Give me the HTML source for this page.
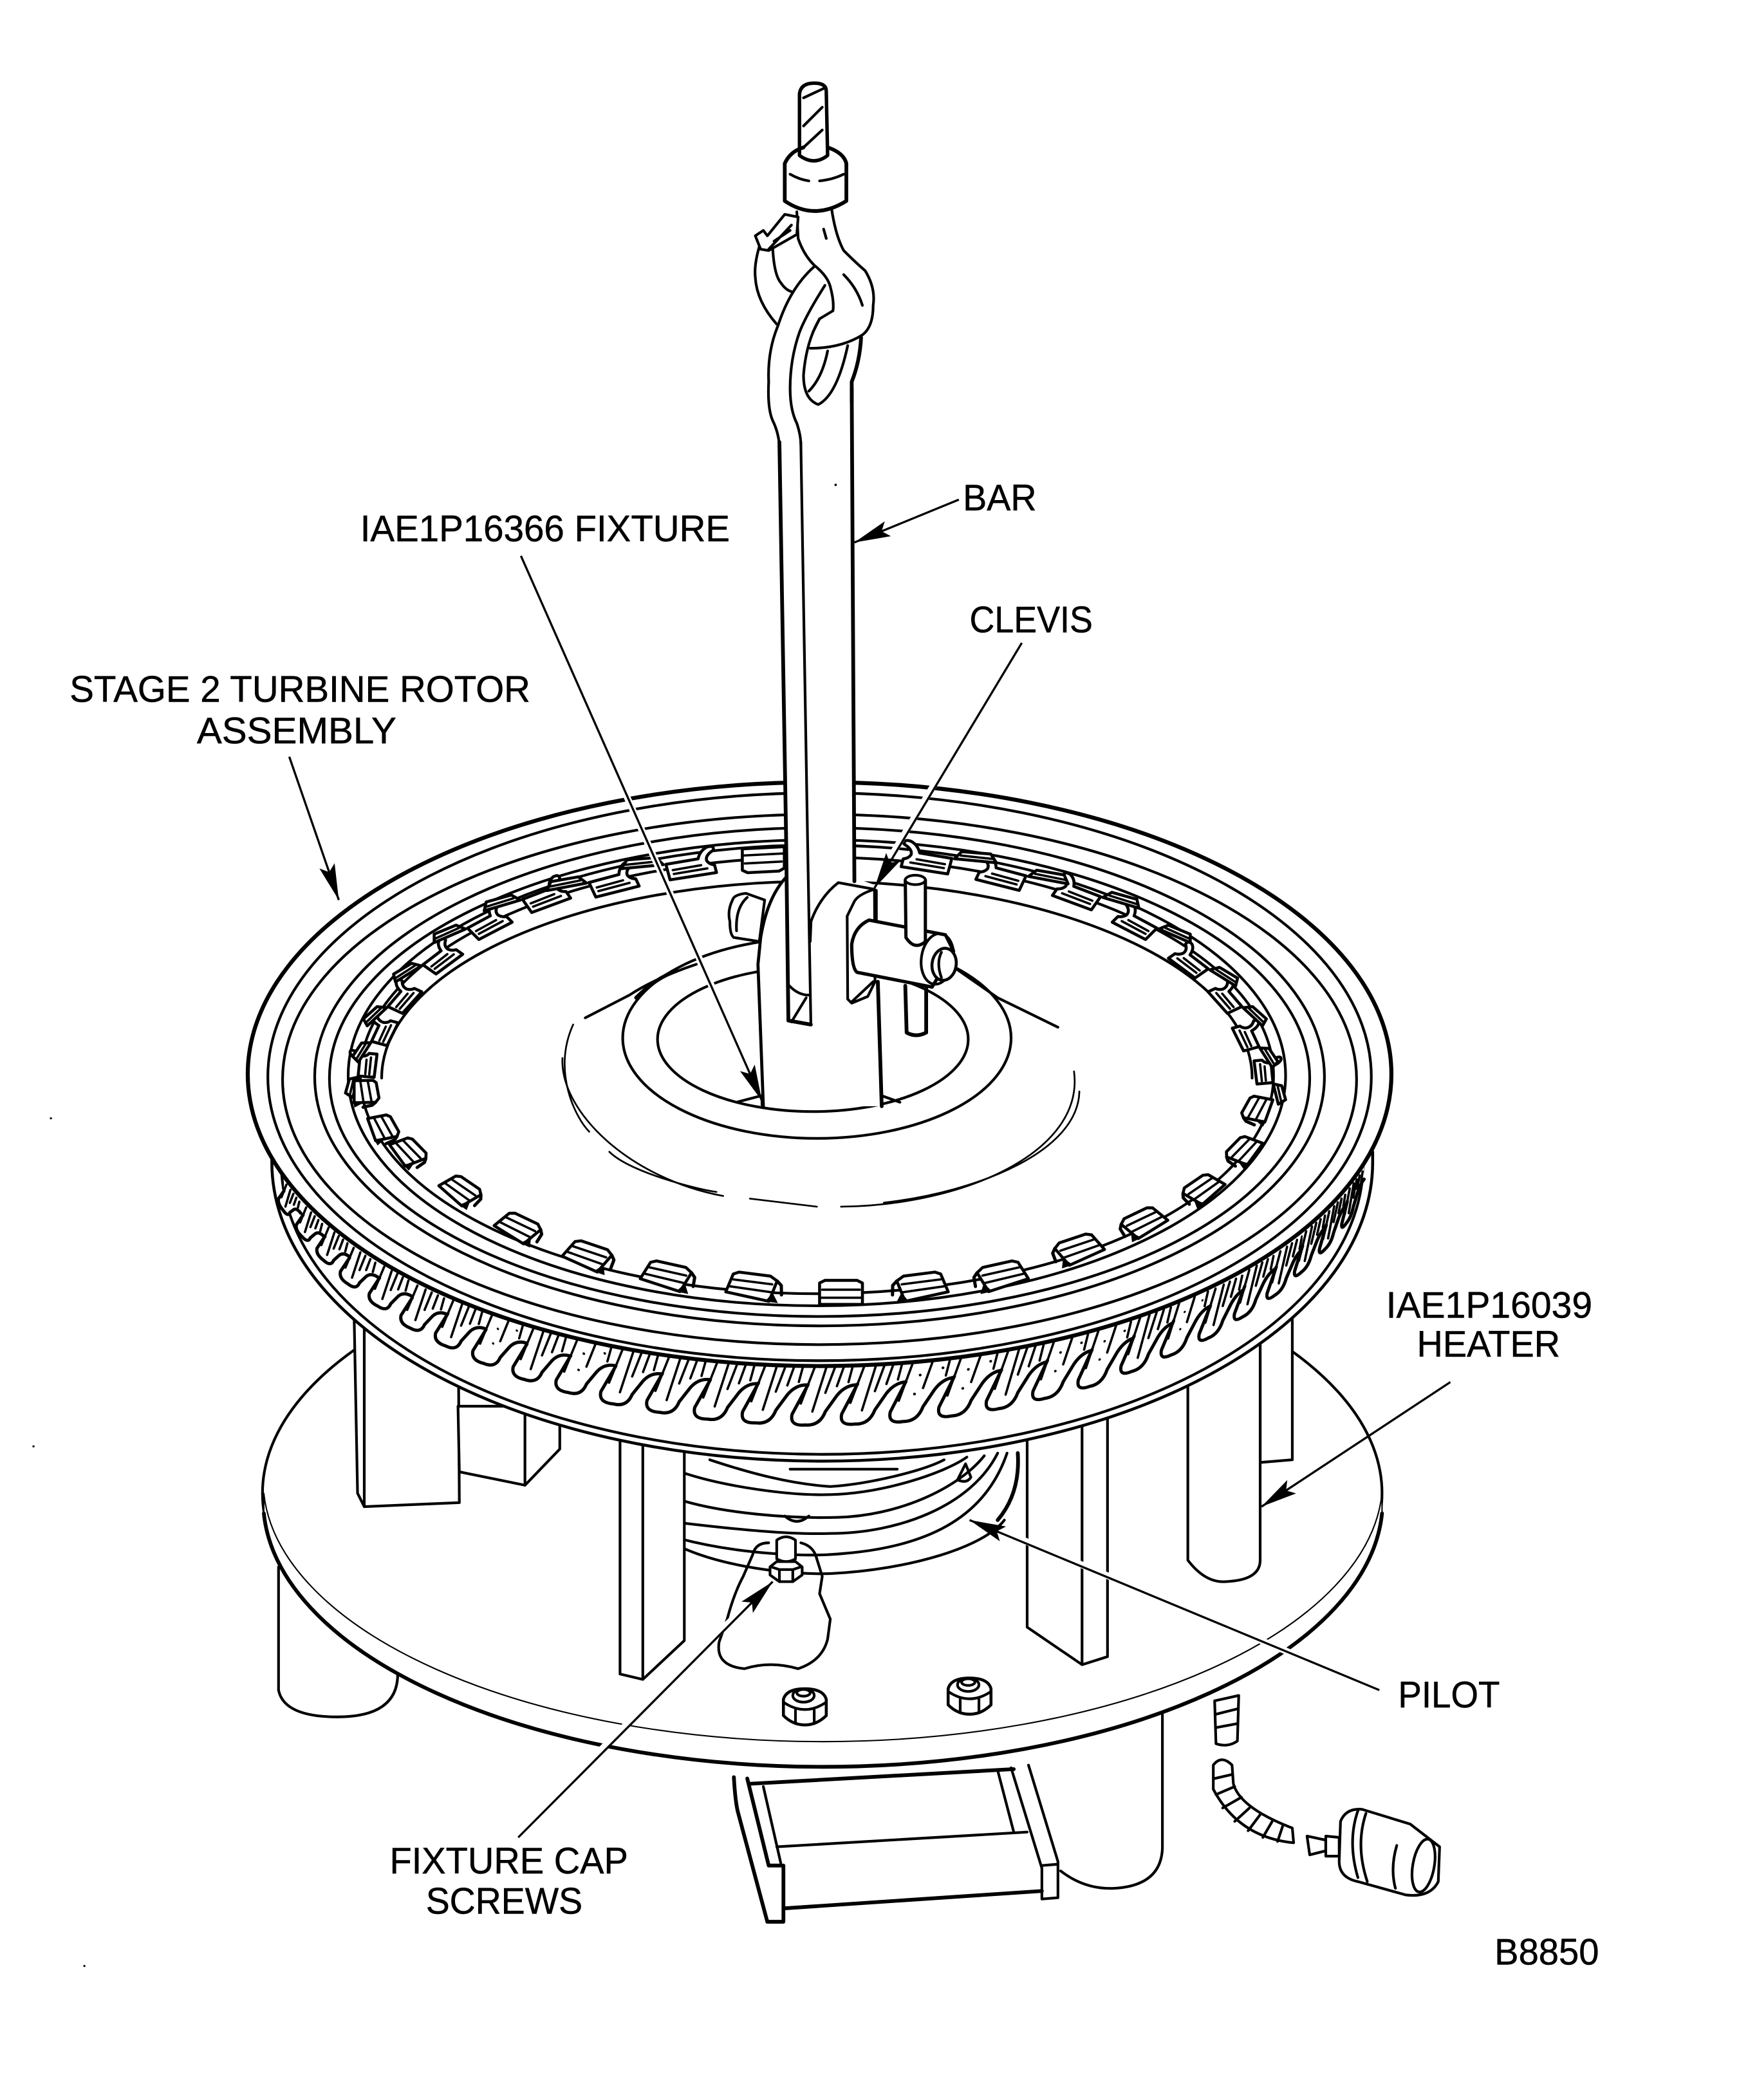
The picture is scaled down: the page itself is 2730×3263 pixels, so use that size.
<!DOCTYPE html>
<html><head><meta charset="utf-8"><style>
html,body{margin:0;padding:0;background:#fff}
svg{display:block}
text{font-family:"Liberation Sans",sans-serif;font-size:27.5px;fill:#000;stroke:#000;stroke-width:.25px}
.l{fill:none;stroke:#000;stroke-width:2;stroke-linecap:round;stroke-linejoin:round}
.w{fill:#fff;stroke:#000;stroke-width:2;stroke-linejoin:round}
.t{fill:none;stroke:#000;stroke-width:1.3;stroke-linecap:round}
.k{fill:none;stroke:#000;stroke-width:2.8;stroke-linecap:round;stroke-linejoin:round}
.a{fill:none;stroke:#000;stroke-width:1.6}
.h{fill:none;stroke:#fff;stroke-width:5}
.c{fill:#fff;stroke:#000;stroke-width:4.6px;stroke-linejoin:round;vector-effect:non-scaling-stroke}
.d{fill:none;stroke:#000;stroke-width:3.6px;stroke-linecap:round;stroke-linejoin:round;vector-effect:non-scaling-stroke}
.e{fill:none;stroke:#000;stroke-width:5px;stroke-linecap:round;stroke-linejoin:round;vector-effect:non-scaling-stroke}
.g{fill:#000;stroke:#000;stroke-width:2px;vector-effect:non-scaling-stroke}
</style></head><body>
<svg xmlns="http://www.w3.org/2000/svg" width="2730" height="3263" viewBox="0 0 1312 1568">
<defs>
<marker id="m" markerUnits="userSpaceOnUse" markerWidth="32" markerHeight="16" refX="30" refY="8" orient="auto"><path d="M30,8 L3,2 L8,8 L3,14Z" fill="#000"/></marker>
<g id="T">
<path d="M-8,-10 L-8,14 L-19,36 Q-21,45 -10,44 Q0,45 4,34 L12,22 Q18,14 26,14 L26,-10Z" fill="#fff"/>
<path class="e" d="M-8,14 L-19,36 Q-21,45 -10,44 Q0,45 4,34 L12,22 Q18,14 26,14"/>
<path class="d" d="M-3,0 L-13,28 M5,0 L-5,34 M11,0 L4,20 M17,0 L12,15 M23,0 L20,12"/>
</g>
<g id="U">
<path d="M-8,-10 L-8,14 L-19,36 Q-21,45 -10,44 Q0,45 4,34 L12,22 Q18,14 26,14 L26,-10Z" fill="#fff"/>
<path class="e" d="M-8,14 L-19,36 Q-21,45 -10,44 Q0,45 4,34 L12,22 Q18,14 26,14"/>
<path class="d" d="M-3,0 L-13,28 M11,0 L4,20 M23,0 L20,12"/>
<circle cx="2" cy="10" r="1"/><circle cx="-2" cy="24" r="1"/><circle cx="18" cy="6" r="1"/>
</g>
<g id="F">
<path class="c" d="M-18,-12 L-16,16 L-12,20 L12,20 L18,14 L16,-18Z"/>
<path class="d" d="M-15,8 L15,8 M-16,-3 L16,-4"/>
<path class="e" d="M18,14 L22,8 L24,-6"/>
<path class="g" d="M17,-6 L14,-18 L22,-18Z"/>
</g>
<g id="R">
<path class="c" d="M-16,-18 L-16,14 L-12,18 L12,18 L16,14 L16,-18Z"/>
<path class="d" d="M-14,4 L14,4 M-16,-8 L16,-8"/>
</g>
<g id="B">
<path class="c" d="M-18,-6 L7,-8 Q10,-20 16,-24 Q22,-26 20,-18 Q13,-12 13,-4 Q14,2 18,4 L18,16 L-18,18Z"/>
<path class="d" d="M-14,4 L8,2 M-14,10 L12,8"/>
<path class="c" d="M-20,-6 L-24,-18 L-46,-20 L-52,-8Z"/>
<path class="d" d="M-24,-12 L-49,-13"/>
</g>
</defs>
<rect width="1312" height="1568" fill="#fff"/>

<!-- legs -->
<path class="w" d="M208,1170 L208,1262 Q212,1282 252,1282 Q297,1282 297,1250 L297,1170Z"/>
<path d="M795,1270 L792,1395 Q810,1411 832,1410 Q867,1408 868,1380 L868,1270Z" fill="#fff"/>
<path class="k" style="stroke-width:2" d="M792,1397 Q810,1411 832,1410 Q867,1408 868,1380 L868,1270"/>

<!-- bracket -->
<path d="M565,1332 L757,1320 L766,1368 L778,1405 L778,1418 L584,1434 L584,1420 L567,1334Z" fill="#fff"/>
<path class="k" d="M548,1327 Q549,1345 551,1353 L573,1435 L585,1435 L585,1393 L574,1393 L558,1328"/>
<path class="l" d="M570,1334 L583,1391"/>
<path class="l" d="M580,1379 L767,1368"/>
<path class="k" d="M585,1425 L778,1412"/>
<path class="k" d="M559,1332 L757,1321"/>
<path class="l" d="M745,1322 L757,1368"/>
<path class="l" d="M755,1320 L778,1395 L778,1418 L790,1417 L790,1390 L768,1318"/>
<path class="l" d="M778,1393 L790,1392"/>

<!-- plate -->
<ellipse class="w" cx="614" cy="1115" rx="418" ry="195"/>
<path class="w" d="M197,1115 L197,1130 A418,199 0 0 0 1032,1130 L1032,1115 A418,195 0 0 1 197,1115Z" style="stroke-width:1"/>
<path class="k" d="M197,1130 A418,199 0 0 0 1032,1130"/>

<!-- wire and plug -->
<path class="w" d="M907,1270 L925,1266 L924,1300 Q917,1305 908,1302Z"/>
<path class="l" d="M908,1280 L924,1276 M908,1290 L924,1287"/>
<path class="w" d="M906,1318 Q912,1310 920,1318 L921,1332 Q926,1350 965,1365 L966,1376 Q925,1372 906,1336Z"/>
<path class="l" d="M907,1328 L920,1325 M908,1340 L922,1334 M913,1350 L927,1342 M922,1360 L933,1350 M932,1367 L941,1355 M943,1372 L950,1360 M954,1375 L958,1363"/>
<path class="w" d="M976,1371 L990,1374 L990,1382 L978,1385Z"/>
<path class="w" d="M990,1371 L1000,1372 L1000,1386 L990,1386Z"/>
<path class="w" d="M1001,1360 Q1005,1350 1017,1351 L1053,1362 L1075,1379 L1074,1405 Q1068,1417 1050,1415 L1014,1405 Q1000,1402 1000,1390Z"/>
<path class="l" d="M1014,1352 Q1006,1375 1014,1402 M1020,1354 Q1012,1378 1021,1405 M1043,1378 Q1038,1395 1042,1410"/>
<ellipse class="l" cx="1063" cy="1393" rx="8" ry="20" transform="rotate(10 1063 1393)"/>

<!-- pilot -->
<path class="l" d="M508,1155 C540,1170 590,1176 620,1175 C680,1172 735,1155 750,1135"/>
<path class="l" d="M508,1149 C550,1160 600,1163 630,1160 C690,1155 735,1135 752,1085"/>
<path class="l" d="M508,1137 C550,1142 590,1146 620,1145 C670,1145 725,1125 745,1085"/>
<path class="l" d="M508,1120 C540,1130 590,1134 625,1133 C670,1132 715,1112 735,1087"/>
<path class="l" d="M508,1099 C540,1110 590,1117 620,1116 C660,1115 705,1100 722,1088"/>
<path class="l" d="M530,1090 C560,1100 590,1108 620,1110 C650,1108 690,1098 705,1090"/>
<path class="l" d="M590,1097 L670,1097"/>
<path class="k" d="M760,1085 Q762,1115 745,1135"/>
<path class="l" d="M586,1132 Q595,1140 604,1132 M715,1105 L721,1093 L725,1103 Q722,1108 715,1105Z"/>

<!-- blob and screw -->
<path class="l" d="M562,1161 Q564,1152 574,1152 M598,1152 Q606,1154 609,1161 L614,1177 L612,1190 L620,1209 L618,1224 Q614,1240 596,1246 Q575,1240 556,1246 Q534,1244 537,1226 L543,1209 Q548,1190 555,1177 L562,1161"/>
<path class="w" d="M575,1170 L580,1166 L594,1166 L599,1170 L599,1176 L592,1181 L582,1181 L575,1176Z" style="stroke-width:2"/>
<path class="l" d="M582,1172 L582,1181 M592,1172 L592,1181 M576,1170 L582,1172 L592,1172 L598,1170"/>
<path class="w" d="M580,1150 Q587,1145 594,1150 L594,1164 Q587,1168 580,1164Z" style="stroke-width:2"/>

<!-- posts -->
<path class="w" d="M264,960 L267,1115 L272,1125 L343,1122 L342,960Z"/>
<path class="l" d="M272,960 L272,1125"/>
<path class="w" d="M342,1050 L343,1099 L392,1109 L418,1082 L418,1050Z"/>
<path class="l" d="M392,1050 L392,1109"/>
<path class="w" d="M463,1040 L463,1250 L480,1254 L511,1225 L511,1040Z"/>
<path class="l" d="M480,1040 L480,1254"/>
<path class="w" d="M767,1040 L767,1215 L808,1243 L827,1237 L827,1040Z"/>
<path class="l" d="M808,1040 L808,1243"/>
<path class="w" d="M941,960 L965,960 L965,1090 L941,1092Z"/>
<path class="w" d="M887,1000 L887,1165 Q900,1182 915,1181 Q941,1180 941,1165 L941,1000Z"/>

<!-- nuts -->
<g id="n1"><path class="w" d="M585,1269 Q587,1261 601,1261 Q615,1261 617,1269 L617,1281 Q610,1288 601,1288 Q592,1288 585,1281Z" style="stroke-width:2.2"/>
<path class="l" d="M585,1271 Q601,1282 617,1271 M594,1277 L594,1287 M608,1277 L608,1287"/>
<ellipse class="w" cx="600" cy="1266" rx="8" ry="5"/>
<ellipse class="l" cx="600" cy="1264" rx="5" ry="2.5"/></g>
<path class="w" d="M708,1261 Q710,1253 724,1253 Q738,1253 740,1261 L740,1273 Q733,1280 724,1280 Q715,1280 708,1273Z" style="stroke-width:2.2"/>
<path class="l" d="M708,1263 Q724,1274 740,1263 M717,1269 L717,1279 M731,1269 L731,1279"/>
<ellipse class="w" cx="723" cy="1258" rx="8" ry="5"/>
<ellipse class="l" cx="723" cy="1256" rx="5" ry="2.5"/>

<!-- flange -->
<path class="w" d="M203,860 L203,868 A411,223 0 0 0 1025,868 L1025,860Z" style="stroke-width:2.2"/>
<path class="l" d="M210,868 A404,218 0 0 0 1018,868"/>

<!-- teeth -->
<use href="#T" transform="matrix(.37 .49 0 .51 215 886)"/>
<use href="#T" transform="matrix(.457 .471 0 .567 230 903)"/>
<use href="#T" transform="matrix(.54 .45 0 .625 247 918)"/>
<use href="#T" transform="matrix(.62 .426 0 .68 266 933)"/>
<use href="#T" transform="matrix(.694 .398 0 .732 289 947)"/>
<use href="#T" transform="matrix(.764 .368 0 .78 314 961)"/>
<use href="#T" transform="matrix(.827 .334 0 .825 341 972)"/>
<use href="#U" transform="matrix(.885 .298 0 .864 370 983)"/>
<use href="#T" transform="matrix(.935 .26 0 .9 401 993)"/>
<use href="#U" transform="matrix(.978 .22 0 .93 434 1001)"/>
<use href="#T" transform="matrix(1.015 .178 0 .955 468 1008)"/>
<use href="#T" transform="matrix(1.043 .135 0 .975 503 1013)"/>
<use href="#T" transform="matrix(1.064 .09 0 .989 539 1017)"/>
<use href="#T" transform="matrix(1.076 .045 0 .997 575 1019)"/>
<use href="#T" transform="matrix(1.08 0 0 1 612 1020)"/>
<use href="#T" transform="matrix(1.076 -.045 0 .997 649 1019)"/>
<use href="#U" transform="matrix(1.064 -.09 0 .989 685 1017)"/>
<use href="#U" transform="matrix(1.043 -.135 0 .975 721 1013)"/>
<use href="#T" transform="matrix(1.015 -.178 0 .955 756 1008)"/>
<use href="#U" transform="matrix(.978 -.22 0 .93 790 1001)"/>
<use href="#U" transform="matrix(.935 -.26 0 .9 823 993)"/>
<use href="#T" transform="matrix(.885 -.298 0 .864 854 983)"/>
<use href="#U" transform="matrix(.827 -.334 0 .825 883 972)"/>
<use href="#T" transform="matrix(.764 -.368 0 .78 910 961)"/>
<use href="#T" transform="matrix(.694 -.398 0 .732 935 947)"/>
<use href="#T" transform="matrix(.62 -.426 0 .68 958 933)"/>
<use href="#T" transform="matrix(.54 -.45 0 .625 977 918)"/>
<use href="#T" transform="matrix(.457 -.471 0 .567 994 903)"/>
<use href="#T" transform="matrix(.37 -.49 0 .51 1009 886)"/>

<!-- rim -->
<ellipse class="w" cx="612" cy="802" rx="427" ry="218" style="stroke-width:3"/>
<ellipse class="l" cx="612" cy="804" rx="412" ry="212"/>
<ellipse class="l" cx="612" cy="806" rx="401" ry="198"/>
<ellipse class="l" cx="612" cy="804" rx="377" ry="186"/>
<ellipse class="l" cx="612" cy="805" rx="366" ry="178"/>
<path class="l" d="M285,805 A325,147 0 0 1 935,805" />
<ellipse class="l" cx="610" cy="803" rx="350" ry="172"/>
<ellipse class="l" cx="610" cy="803" rx="341" ry="163"/>

<!-- clips back -->
<use href="#B" transform="matrix(-.088 -.478 -.498 .044 946 800)"/>
<use href="#B" transform="matrix(-.261 -.464 -.483 .13 932.6 774)"/>
<use href="#B" transform="matrix(-.426 -.435 -.453 .212 917 745)"/>
<use href="#B" transform="matrix(-.577 -.393 -.41 .287 889.4 718)"/>
<use href="#B" transform="matrix(-.711 -.339 -.354 .354 849 689)"/>
<use href="#B" transform="matrix(-.824 -.276 -.287 .41 805.3 667)"/>
<use href="#B" transform="matrix(-.911 -.203 -.212 .453 748.5 653)"/>
<use href="#B" transform="matrix(-.972 -.124 -.13 .483 692.5 641.6)"/>
<use href="#B" transform="matrix(.088 -.478 .498 .044 272 795)"/>
<use href="#B" transform="matrix(.261 -.464 .483 .13 285 770)"/>
<use href="#B" transform="matrix(.426 -.435 .453 .212 300 745)"/>
<use href="#B" transform="matrix(.577 -.393 .41 .287 328.6 715)"/>
<use href="#B" transform="matrix(.711 -.339 .354 .354 364 689)"/>
<use href="#B" transform="matrix(.824 -.276 .287 .41 406.7 669)"/>
<use href="#B" transform="matrix(.911 -.203 .212 .453 457.5 658)"/>
<use href="#B" transform="matrix(.972 -.124 .13 .483 515.5 646)"/>
<use href="#R" transform="matrix(.98 -.05 0 .5 570 642)"/>

<!-- clips front -->
<use href="#F" transform="matrix(-.261 .464 -.483 -.13 940 828)"/>
<use href="#F" transform="matrix(-.426 .435 -.453 -.212 930 859)"/>
<use href="#F" transform="matrix(-.577 .393 -.41 -.287 899.5 888)"/>
<use href="#F" transform="matrix(-.711 .339 -.354 -.354 855 913)"/>
<use href="#F" transform="matrix(-.824 .276 -.287 -.41 806.5 933)"/>
<use href="#F" transform="matrix(-.911 .203 -.212 -.453 749 953)"/>
<use href="#F" transform="matrix(-.972 .124 -.13 -.483 689 961)"/>
<use href="#R" transform="matrix(1 0 0 -.5 628 965)"/>
<use href="#F" transform="matrix(.972 .124 .13 -.483 561 961)"/>
<use href="#F" transform="matrix(.911 .203 .212 -.453 497 953)"/>
<use href="#F" transform="matrix(.824 .276 .287 -.41 438 938)"/>
<use href="#F" transform="matrix(.711 .339 .354 -.354 386 917)"/>
<use href="#F" transform="matrix(.577 .393 .41 -.287 343 889)"/>
<use href="#F" transform="matrix(.426 .435 .453 -.212 304 860)"/>
<use href="#F" transform="matrix(.261 .464 .483 -.13 285 842)"/>
<use href="#F" transform="matrix(.088 .478 .498 -.044 272 815)"/>

<!-- hub -->
<path class="t" d="M420,790 C418,830 470,880 540,893 M560,895 L610,901 M628,901 C720,900 810,860 802,800" />
<path class="t" d="M428,765 C412,800 430,835 440,845 M455,860 C470,875 520,888 535,890 M660,898 C730,890 805,860 806,815"/>
<path class="l" d="M437,760 L470,743 Q490,730 520,720"/>
<path class="l" d="M702,715 L745,745 L790,767"/>
<ellipse class="l" cx="610" cy="775" rx="145" ry="75"/>
<ellipse class="l" cx="607" cy="776" rx="116" ry="54"/>
<path class="k" d="M475,745 Q490,730 505,725"/>

<!-- knob behind fixture -->
<path class="w" d="M571,672 L557,667 Q548,668 547,672 Q543,680 545,688 Q545,698 548,700 L567,703Z"/>
<path class="l" d="M558,670 Q549,678 550,695"/>

<!-- bar + fixture white mask -->
<path d="M587,305 L637,305 L637,655 L654,661 L658,826 L570,826 L566,720 Q570,670 587,655Z" fill="#fff"/>
<path d="M574,270 L600,200 L640,205 L650,230 L638,280 L637,310 L583,330 Z" fill="#fff"/>

<!-- bar -->
<path class="k" d="M582,330 L587,625 L588.7,762 L605.5,765"/>
<path class="l" d="M598,330 L603,625 L605.5,765"/>
<path class="k" d="M636,290 L638,658"/>
<path class="l" d="M589.4,736 Q596,743 604,743 M602,745 L591,763"/>

<!-- fixture -->
<path class="k" style="stroke-width:2.3" d="M587,655 Q573,670 568,700 L566,720 L570,826"/>
<path class="l" d="M605,703 L605.6,688 Q612,670 626,659 L653,664"/>
<path class="k" d="M654,665 L654,687 M655.5,733 L658.4,826"/>
<path class="w" d="M653,664 Q640,668 637.5,674 L632.6,684 L633,746 L636,749 L648,744 L653.4,733Z"/>
<path class="l" d="M636,748 L652,733"/>
<path class="w" d="M649,687 L706,698 L712,710 L696,737 L640,726 Q636,723 636,705 Q638,692 649,687Z" style="stroke-width:2.5"/>
<path class="w" d="M676,657 L676.5,700 Q683,710 691,703 L691,657Z" style="stroke-width:2.4"/>
<ellipse class="w" cx="683.5" cy="657" rx="7.5" ry="3.5"/>
<path class="k" d="M676,736 L677,771 Q684,775 691.6,771 L691.6,738"/>
<ellipse class="l" cx="700" cy="716" rx="12" ry="19" transform="rotate(8 700 716)"/>
<ellipse class="w" cx="705" cy="720" rx="9" ry="12" transform="rotate(8 705 720)" style="stroke-width:2.2"/>
<path class="l" d="M703,711 Q699,719 703,730"/>
<path class="l" d="M550,823 L569,818 L569,825 M658,818 L672,823"/>

<!-- hook -->
<path class="w" d="M597,70 Q598,62 608,62 Q617,62 617,68 L618,116 Q608,124 597,116Z" style="stroke-width:2.6"/>
<path class="l" d="M600,73 L615,66 M600,94 L614,80 M600,110 L614,97"/>
<path class="k" d="M586,122 L586,150 Q608,165 632,150 L632,122 Q630,114 618,110 M586,122 Q590,113 600,110"/>
<path class="l" d="M590,130 Q597,134 604,135 M612,135 Q622,134 630,130"/>
<path class="l" d="M621,156 Q624,176 630,187 Q640,197 646,202 Q654,215 652,228 Q652,244 644,250 Q628,260 605,260"/>
<path class="l" d="M595,158 L596,178 Q600,190 608,198 Q618,206 620,214 Q623,225 622,232 L612,238 L607,248"/>
<path class="l" d="M630,205 Q640,215 644,228 M615,171 L617,178"/>
<path class="l" d="M567,184 Q563,198 564,207 Q565,225 580,242"/>
<path class="l" d="M577,185 Q578,205 583,211 Q587,217 592,218"/>
<path class="w" d="M586,160 L596,162 L595,175 L574,187 L568,186 L564,176 L570,172 L573,176Z"/>
<path class="l" d="M574,186 L591,168 M578,180 L590,172"/>
<path class="l" d="M608,199 Q590,215 581,243 Q573,262 574,285 Q573,305 577,314 Q581,322 582,332"/>
<path class="l" d="M616,213 Q602,235 597,248 Q590,268 590,290 Q590,306 595,316 Q598,325 598,332"/>
<path class="l" d="M612,238 Q602,255 600,280 Q600,298 611,302 Q625,295 633,258"/>
<path class="l" d="M618,262 Q614,282 604,292"/>
<path class="k" d="M643,252 Q642,270 636,285 L636,300"/>

<!-- arrows -->
<path class="h" d="M392,425 L560,800"/>
<path class="h" d="M755,490 L665,640"/>
<path class="h" d="M1020,1258 L745,1142"/>
<path class="h" d="M385,1370 L560,1196"/>
<path class="a" marker-end="url(#m)" d="M716,373 L638,405"/>
<path class="a" marker-end="url(#m)" d="M389,415 L569,822"/>
<path class="a" marker-end="url(#m)" d="M763,480 L653,663"/>
<path class="a" marker-end="url(#m)" d="M216,565 L253,672"/>
<path class="a" marker-end="url(#m)" d="M1083,1032 L942,1125"/>
<path class="a" marker-end="url(#m)" d="M1030,1262 L724,1135"/>
<path class="a" marker-end="url(#m)" d="M387,1372 L577,1181"/>

<!-- labels -->
<text x="719" y="381" textLength="55" lengthAdjust="spacingAndGlyphs">BAR</text>
<text x="269" y="404" textLength="276" lengthAdjust="spacingAndGlyphs">IAE1P16366 FIXTURE</text>
<text x="724" y="472" textLength="92" lengthAdjust="spacingAndGlyphs">CLEVIS</text>
<text x="52" y="524" textLength="344" lengthAdjust="spacingAndGlyphs">STAGE 2 TURBINE ROTOR</text>
<text x="147" y="555" textLength="149" lengthAdjust="spacingAndGlyphs">ASSEMBLY</text>
<text x="1035" y="984" textLength="154" lengthAdjust="spacingAndGlyphs">IAE1P16039</text>
<text x="1058" y="1013" textLength="107" lengthAdjust="spacingAndGlyphs">HEATER</text>
<text x="1044" y="1275" textLength="76" lengthAdjust="spacingAndGlyphs">PILOT</text>
<text x="291" y="1399" textLength="178" lengthAdjust="spacingAndGlyphs">FIXTURE CAP</text>
<text x="318" y="1429" textLength="117" lengthAdjust="spacingAndGlyphs">SCREWS</text>
<text x="1116" y="1467" textLength="78" lengthAdjust="spacingAndGlyphs">B8850</text>

<circle cx="38" cy="835" r=".8"/><circle cx="25" cy="1080" r=".8"/><circle cx="63" cy="1468" r=".8"/><circle cx="624" cy="362" r=".9"/>
</svg>
</body></html>
